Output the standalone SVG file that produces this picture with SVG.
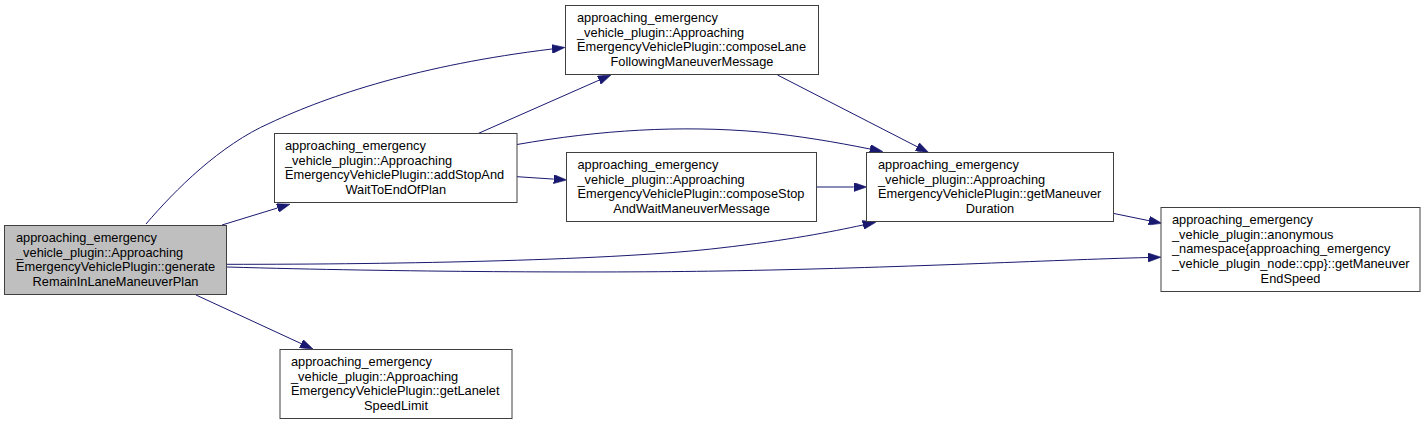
<svg xmlns="http://www.w3.org/2000/svg" width="1425" height="425" viewBox="0 0 1425 425">
<style>
.n rect{fill:#ffffff;stroke:#404040;stroke-width:1}
.n.root rect{fill:#bfbfbf}
.n text{font-family:"Liberation Sans",Arial,sans-serif;font-size:12.8px;fill:#000}
.n text .c{text-anchor:middle}
#edges path{fill:none;stroke:#191970;stroke-width:1;marker-end:url(#ah)}
</style>
<defs>
<marker id="ah" markerUnits="userSpaceOnUse" viewBox="0 0 13 9" refX="0" refY="4.5" markerWidth="13" markerHeight="9" orient="auto">
<path d="M0,0 L13,4.5 L0,9 z" fill="#191970" stroke="#191970" stroke-width="0.6"/>
</marker>
</defs>
<rect width="1425" height="425" fill="#ffffff"/>
<g id="edges">
<path d="M146,224 C175,190 220,145 270,123 C330,95 420,65 552,49"/>
<path d="M222,225 L277.5,208"/>
<path d="M196,295 L301.2,343.6"/>
<path d="M227,264.3 C400,264.5 620,260 720,248 C790,240 830,232 863,225"/>
<path d="M227,267 C400,272 600,273 720,271 C900,268 1050,260 1148,257.5"/>
<path d="M477,134 L599,80.2"/>
<path d="M517,144.5 C600,130 680,125 760,132 C800,136 835,142 870,149"/>
<path d="M517,176.7 L553.7,179.1"/>
<path d="M777.5,75 L917.3,146.8"/>
<path d="M817,187 L853.7,187"/>
<path d="M1113,213.3 L1149,220.7"/>
</g>
<g id="generateRemainInLaneManeuverPlan" class="n root">
<rect x="4.5" y="225.5" width="222" height="69"/>
<text><tspan x="16" y="242">approaching_emergency</tspan><tspan x="16" y="256.7">_vehicle_plugin::Approaching</tspan><tspan x="16" y="271.4">EmergencyVehiclePlugin::generate</tspan><tspan class="c" x="115.5" y="286.1">RemainInLaneManeuverPlan</tspan></text>
</g>
<g id="addStopAndWaitToEndOfPlan" class="n">
<rect x="274.5" y="133.5" width="242.5" height="69"/>
<text><tspan x="285" y="150">approaching_emergency</tspan><tspan x="285" y="164.7">_vehicle_plugin::Approaching</tspan><tspan x="285" y="179.4">EmergencyVehiclePlugin::addStopAnd</tspan><tspan class="c" x="395.75" y="194.1">WaitToEndOfPlan</tspan></text>
</g>
<g id="composeLaneFollowingManeuverMessage" class="n">
<rect x="565.5" y="5.5" width="253" height="69"/>
<text><tspan x="577" y="22">approaching_emergency</tspan><tspan x="577" y="36.7">_vehicle_plugin::Approaching</tspan><tspan x="577" y="51.4">EmergencyVehiclePlugin::composeLane</tspan><tspan class="c" x="692" y="66.1">FollowingManeuverMessage</tspan></text>
</g>
<g id="composeStopAndWaitManeuverMessage" class="n">
<rect x="566.5" y="152.5" width="250" height="69"/>
<text><tspan x="577.5" y="169">approaching_emergency</tspan><tspan x="577.5" y="183.7">_vehicle_plugin::Approaching</tspan><tspan x="577.5" y="198.4">EmergencyVehiclePlugin::composeStop</tspan><tspan class="c" x="691.5" y="213.1">AndWaitManeuverMessage</tspan></text>
</g>
<g id="getManeuverDuration" class="n">
<rect x="866.5" y="152.5" width="247" height="69"/>
<text><tspan x="878" y="169">approaching_emergency</tspan><tspan x="878" y="183.7">_vehicle_plugin::Approaching</tspan><tspan x="878" y="198.4">EmergencyVehiclePlugin::getManeuver</tspan><tspan class="c" x="990" y="213.1">Duration</tspan></text>
</g>
<g id="getManeuverEndSpeed" class="n">
<rect x="1161" y="207.5" width="259" height="84"/>
<text><tspan x="1172" y="224">approaching_emergency</tspan><tspan x="1172" y="238.7">_vehicle_plugin::anonymous</tspan><tspan x="1172" y="253.4">_namespace{approaching_emergency</tspan><tspan x="1172" y="268.1">_vehicle_plugin_node::cpp}::getManeuver</tspan><tspan class="c" x="1290.5" y="282.8">EndSpeed</tspan></text>
</g>
<g id="getLaneletSpeedLimit" class="n">
<rect x="280" y="349.5" width="232" height="69"/>
<text><tspan x="291" y="366">approaching_emergency</tspan><tspan x="291" y="380.7">_vehicle_plugin::Approaching</tspan><tspan x="291" y="395.4">EmergencyVehiclePlugin::getLanelet</tspan><tspan class="c" x="396" y="410.1">SpeedLimit</tspan></text>
</g>
</svg>
